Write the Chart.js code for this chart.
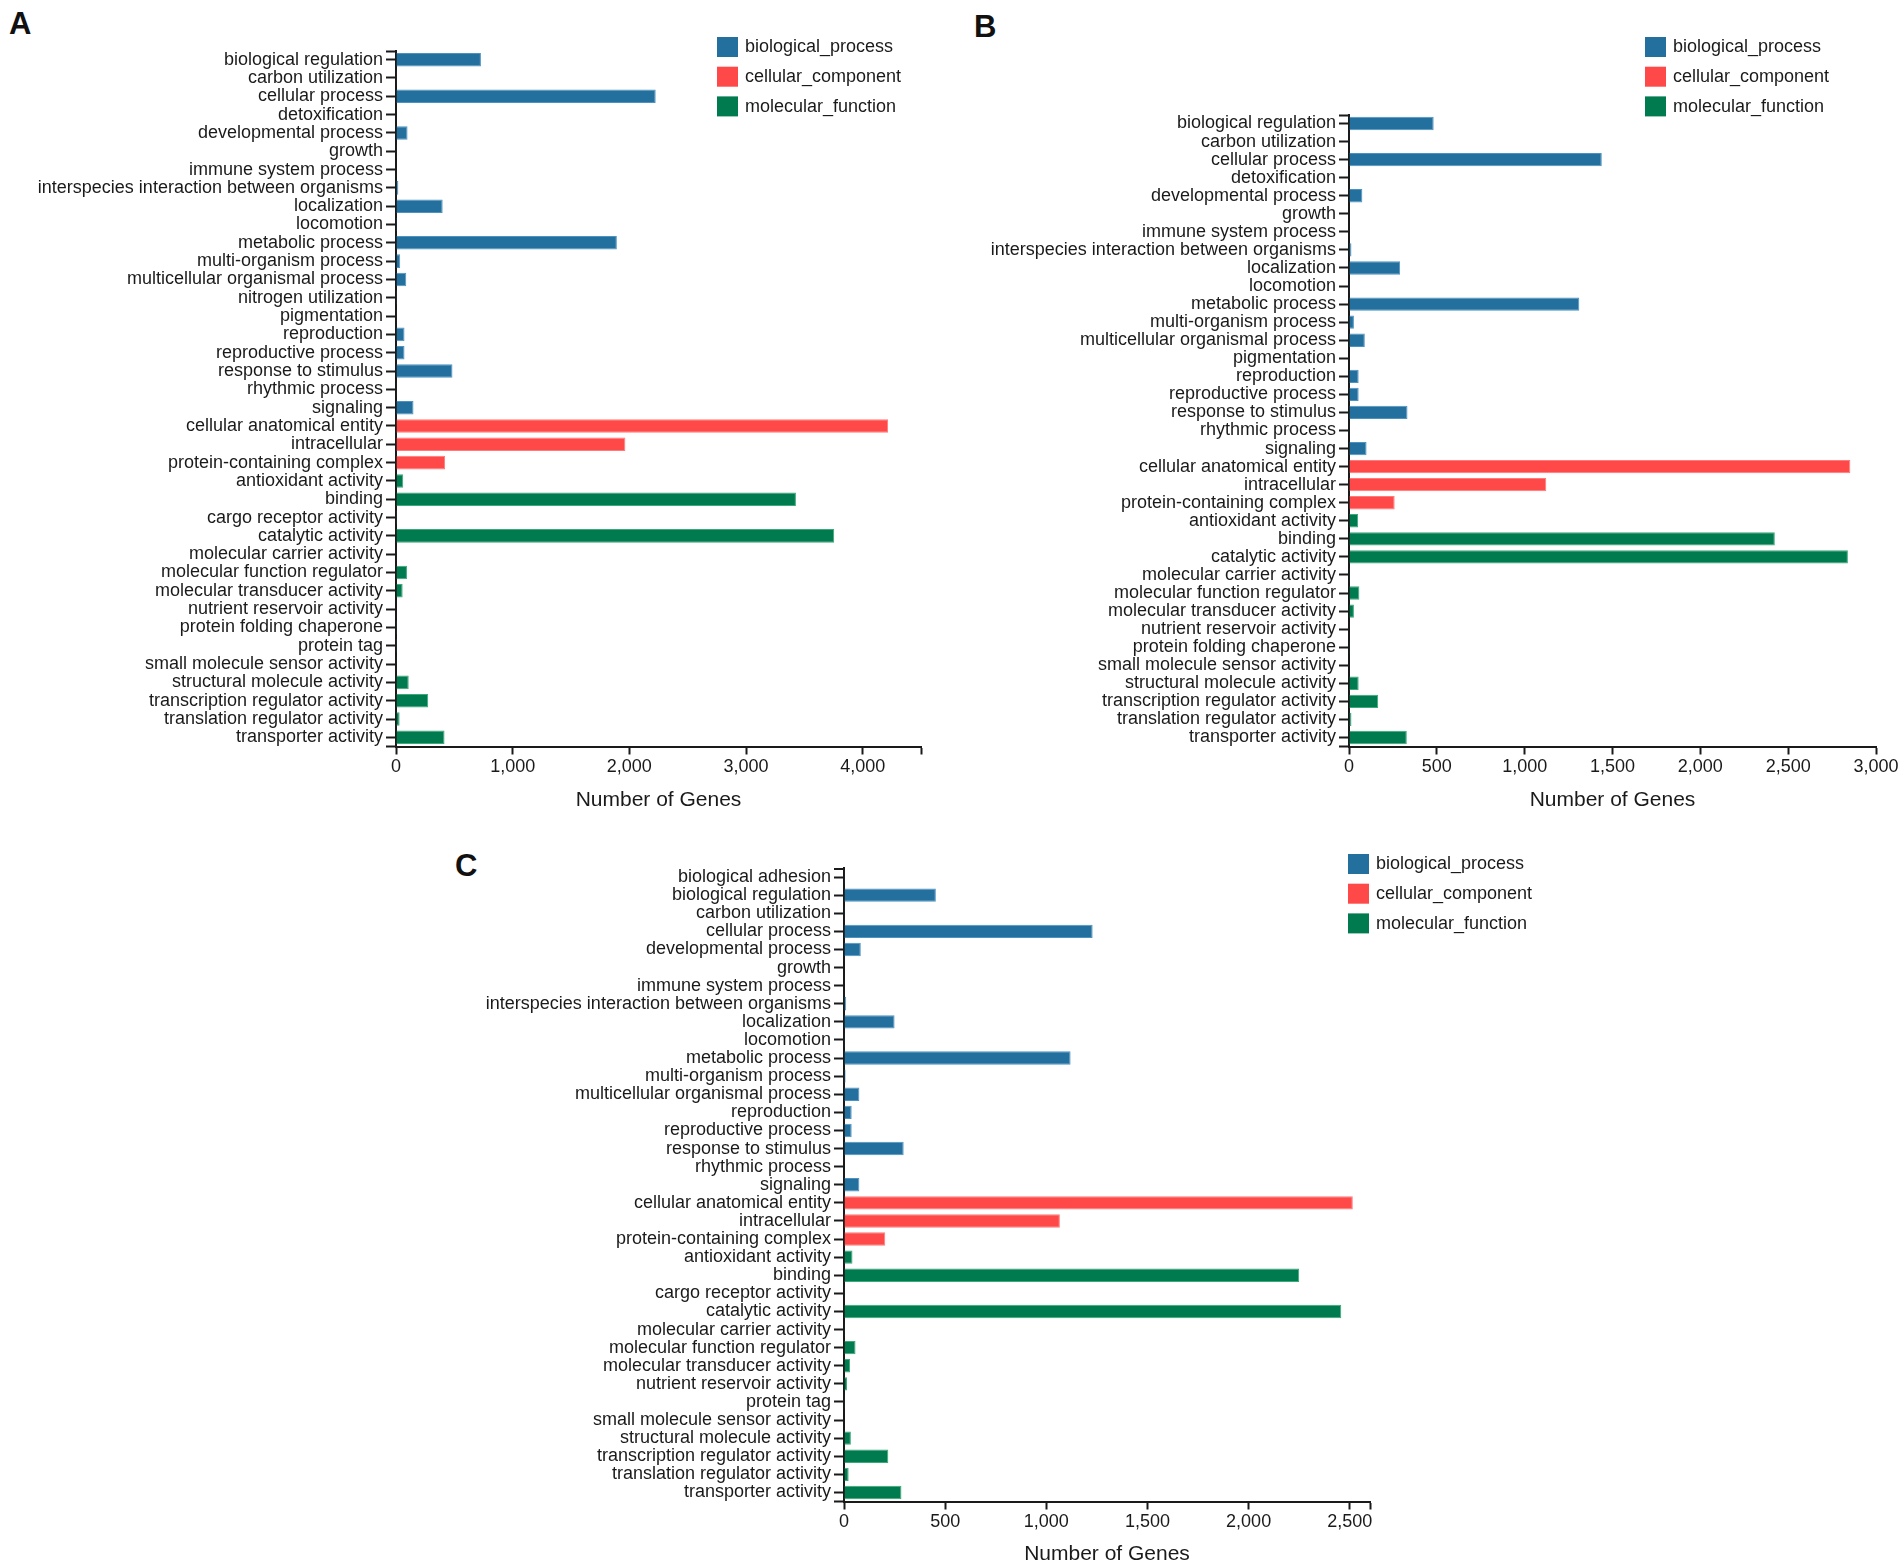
<!DOCTYPE html>
<html>
<head>
<meta charset="utf-8">
<script src="https://cdn.jsdelivr.net/npm/chart.js@4.4.0/dist/chart.umd.min.js"></script>
<style>
  body { margin: 0; background: #fff; width: 1904px; height: 1567px; position: relative; overflow: hidden;
         font-family: "Liberation Sans", Arial, sans-serif; }
  .box { position: absolute; }
  .tag { position: absolute; font-weight: bold; font-size: 31px; line-height: 30px; color: #111; }
</style>
</head>
<body>
<div class="tag" style="left:9px;top:9px">A</div>
<div class="tag" style="left:974px;top:12px">B</div>
<div class="tag" style="left:455px;top:851px">C</div>

<div class="box" style="left:0;top:0;width:1000px;height:830px"><canvas id="chartA"></canvas></div>
<div class="box" style="left:952px;top:0;width:952px;height:830px"><canvas id="chartB"></canvas></div>
<div class="box" style="left:400px;top:830px;width:1504px;height:737px"><canvas id="chartC"></canvas></div>

<script>
// ---- panel A ----
const bpLabelsA = ['biological regulation', 'carbon utilization', 'cellular process', 'detoxification',
  'developmental process', 'growth', 'immune system process', 'interspecies interaction between organisms',
  'localization', 'locomotion', 'metabolic process', 'multi-organism process', 'multicellular organismal process',
  'nitrogen utilization', 'pigmentation', 'reproduction', 'reproductive process', 'response to stimulus',
  'rhythmic process', 'signaling'];
const bpValuesA = [728, 2, 2226, 3, 99, 2, 4, 20, 400, 1, 1893, 36, 88, 1, 2, 73, 73, 484, 2, 150];
const ccLabelsA = ['cellular anatomical entity', 'intracellular', 'protein-containing complex'];
const ccValuesA = [4218, 1966, 421];
const mfLabelsA = ['antioxidant activity', 'binding', 'cargo receptor activity', 'catalytic activity',
  'molecular carrier activity', 'molecular function regulator', 'molecular transducer activity',
  'nutrient reservoir activity', 'protein folding chaperone', 'protein tag', 'small molecule sensor activity',
  'structural molecule activity', 'transcription regulator activity', 'translation regulator activity',
  'transporter activity'];
const mfValuesA = [62, 3428, 1, 3756, 2, 94, 57, 4, 1, 1, 2, 109, 276, 31, 416];
const ticksA = [0, 1000, 2000, 3000, 4000];
const axisEndA = 4500;

// ---- panel B ----
const bpLabelsB = ['biological regulation', 'carbon utilization', 'cellular process', 'detoxification',
  'developmental process', 'growth', 'immune system process', 'interspecies interaction between organisms',
  'localization', 'locomotion', 'metabolic process', 'multi-organism process', 'multicellular organismal process',
  'pigmentation', 'reproduction', 'reproductive process', 'response to stimulus', 'rhythmic process', 'signaling'];
const bpValuesB = [482, 2, 1439, 2, 76, 2, 3, 14, 291, 1, 1311, 28, 90, 2, 55, 55, 333, 2, 100];
const ccLabelsB = ['cellular anatomical entity', 'intracellular', 'protein-containing complex'];
const ccValuesB = [2854, 1123, 260];
const mfLabelsB = ['antioxidant activity', 'binding', 'catalytic activity', 'molecular carrier activity',
  'molecular function regulator', 'molecular transducer activity', 'nutrient reservoir activity',
  'protein folding chaperone', 'small molecule sensor activity', 'structural molecule activity',
  'transcription regulator activity', 'translation regulator activity', 'transporter activity'];
const mfValuesB = [52, 2424, 2840, 1, 59, 28, 3, 1, 3, 55, 166, 14, 329];
const ticksB = [0, 500, 1000, 1500, 2000, 2500, 3000];
const axisEndB = 3000;

// ---- panel C ----
const bpLabelsC = ['biological adhesion', 'biological regulation', 'carbon utilization', 'cellular process',
  'developmental process', 'growth', 'immune system process', 'interspecies interaction between organisms',
  'localization', 'locomotion', 'metabolic process', 'multi-organism process', 'multicellular organismal process',
  'reproduction', 'reproductive process', 'response to stimulus', 'rhythmic process', 'signaling'];
const bpValuesC = [1, 454, 1, 1229, 83, 2, 2, 11, 250, 1, 1120, 8, 76, 38, 38, 295, 2, 76];
const ccLabelsC = ['cellular anatomical entity', 'intracellular', 'protein-containing complex'];
const ccValuesC = [2515, 1067, 204];
const mfLabelsC = ['antioxidant activity', 'binding', 'cargo receptor activity', 'catalytic activity',
  'molecular carrier activity', 'molecular function regulator', 'molecular transducer activity',
  'nutrient reservoir activity', 'protein tag', 'small molecule sensor activity', 'structural molecule activity',
  'transcription regulator activity', 'translation regulator activity', 'transporter activity'];
const mfValuesC = [42, 2250, 1, 2458, 1, 57, 30, 15, 1, 2, 34, 219, 23, 284];
const ticksC = [0, 500, 1000, 1500, 2000, 2500];
const axisEndC = 2600;

const seriesNames = ['biological_process', 'cellular_component', 'molecular_function'];
const fills = ['#23709f', '#ff4848', '#007a4f'];
const edges = ['#4d93c2', '#ff7a7a', '#3aa877'];

const FONT = '"Liberation Sans", Arial, sans-serif';
const INK = '#1a1a1a';

// legend drawn at a fixed spot, as in the figure
const boxLegend = {
  id: 'boxLegend',
  afterDraw(chart, args, opts) {
    const ctx = chart.ctx;
    ctx.save();
    ctx.font = '18px ' + FONT;
    ctx.textBaseline = 'middle';
    chart.data.datasets.forEach((ds, i) => {
      const y = opts.top + i * 29.7;
      ctx.fillStyle = ds.backgroundColor;
      ctx.fillRect(opts.left, y, 21, 20);
      ctx.fillStyle = INK;
      ctx.fillText(ds.label, opts.left + 28, y + 10.5);
    });
    ctx.restore();
  }
};

// d3-style outer ticks on the ends of the category axis
const outerTicks = {
  id: 'outerTicks',
  afterDraw(chart) {
    const { ctx, chartArea } = chart;
    ctx.save();
    ctx.strokeStyle = INK;
    ctx.lineWidth = 2;
    ctx.beginPath();
    [chartArea.top + 1, chartArea.bottom].forEach(y => {
      ctx.moveTo(chartArea.left - 10, y);
      ctx.lineTo(chartArea.left, y);
    });
    ctx.stroke();
    ctx.restore();
  }
};

function makePanel(id, p) {
  const pts = (L, V) => L.map((l, i) => ({ x: V[i], y: l }));
  const groups = [[p.bpL, p.bpV], [p.ccL, p.ccV], [p.mfL, p.mfV]];
  const labels = [].concat(p.bpL, p.ccL, p.mfL);
  const tickVals = p.ticks.includes(p.end) ? p.ticks : p.ticks.concat([p.end]);

  return new Chart(document.getElementById(id), {
    type: 'bar',
    data: {
      labels: labels,
      datasets: groups.map((g, i) => ({
        label: seriesNames[i],
        data: pts(g[0], g[1]),
        backgroundColor: fills[i],
        borderColor: edges[i],
        borderWidth: 1,
        grouped: false,
        barPercentage: 0.74,
        categoryPercentage: 1
      }))
    },
    options: {
      indexAxis: 'y',
      responsive: true,
      maintainAspectRatio: false,
      animation: false,
      layout: { padding: { left: 0, right: p.padRight, top: p.padTop, bottom: 0 } },
      scales: {
        x: {
          type: 'linear',
          min: 0,
          max: p.end,
          afterBuildTicks: s => { s.ticks = tickVals.map(v => ({ value: v })); },
          afterFit: s => { s.height = p.xH; },
          ticks: {
            autoSkip: false,
            maxRotation: 0,
            padding: 2,
            color: INK,
            font: { family: FONT, size: 18 },
            callback: v => p.ticks.includes(v) ? v.toLocaleString('en-US') : ''
          },
          grid: { drawOnChartArea: false, drawTicks: true, tickLength: 8, color: INK, tickWidth: 2 },
          border: { display: true, color: INK, width: 2 },
          title: {
            display: true,
            text: 'Number of Genes',
            color: INK,
            font: { family: FONT, size: 21 },
            padding: { top: 4, bottom: p.titlePad }
          }
        },
        y: {
          type: 'category',
          offset: true,
          afterFit: s => { s.width = p.yW; },
          ticks: { autoSkip: false, padding: 3, color: INK, font: { family: FONT, size: 18 } },
          grid: { offset: false, drawOnChartArea: false, drawTicks: true, tickLength: 10, color: INK, tickWidth: 2 },
          border: { display: true, color: INK, width: 2 }
        }
      },
      plugins: {
        legend: { display: false },
        tooltip: { enabled: false },
        boxLegend: { left: p.legLeft, top: p.legTop }
      }
    },
    plugins: [boxLegend, outerTicks]
  });
}

makePanel('chartA', {
  bpL: bpLabelsA, bpV: bpValuesA, ccL: ccLabelsA, ccV: ccValuesA, mfL: mfLabelsA, mfV: mfValuesA,
  ticks: ticksA, end: axisEndA,
  yW: 396, padRight: 79, padTop: 50.5, xH: 83.5, titlePad: 17, legLeft: 717, legTop: 37
});
makePanel('chartB', {
  bpL: bpLabelsB, bpV: bpValuesB, ccL: ccLabelsB, ccV: ccValuesB, mfL: mfLabelsB, mfV: mfValuesB,
  ticks: ticksB, end: axisEndB,
  yW: 397, padRight: 28, padTop: 114.5, xH: 83.5, titlePad: 17, legLeft: 693, legTop: 37
});
makePanel('chartC', {
  bpL: bpLabelsC, bpV: bpValuesC, ccL: ccLabelsC, ccV: ccValuesC, mfL: mfLabelsC, mfV: mfValuesC,
  ticks: ticksC, end: axisEndC,
  yW: 444, padRight: 534, padTop: 38, xH: 65.5, titlePad: 0.5, legLeft: 948, legTop: 24
});
</script>
</body>
</html>
